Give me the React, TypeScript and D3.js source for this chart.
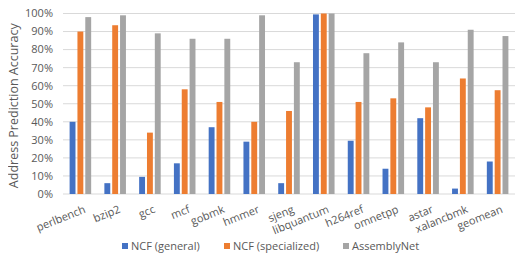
import React, { useEffect, useRef } from 'react';
import * as d3 from 'd3';

const categories = ['perlbench', 'bzip2', 'gcc', 'mcf', 'gobmk', 'hmmer', 'sjeng', 'libquantum', 'h264ref', 'omnetpp', 'astar', 'xalancbmk', 'geomean'];
const ncfGeneral = [40, 6, 9.5, 17, 37, 29, 6, 99.5, 29.5, 14, 42, 3, 18];
const ncfSpecialized = [90, 93.5, 34, 58, 51, 40, 46, 100, 51, 53, 48, 64, 57.5];
const assemblyNet = [98, 99, 89, 86, 86, 99, 73, 100, 78, 84, 73, 91, 87.5];
const seriesNames = ['NCF (general)', 'NCF (specialized)', 'AssemblyNet'];
const seriesColors = ['#4472C4', '#ED7D31', '#A5A5A5'];
const yTicks = [0, 10, 20, 30, 40, 50, 60, 70, 80, 90, 100];

const FONT = '"Open Sans", sans-serif';

export default function App() {
  const ref = useRef<SVGSVGElement>(null);

  useEffect(() => {
    const svg = d3.select(ref.current);
    svg.selectAll('*').remove();

    const margin = { top: 13.5, right: 12, bottom: 67, left: 63 };
    const width = 527 - margin.left - margin.right;
    const height = 261 - margin.top - margin.bottom;

    const g = svg.append('g').attr('transform', `translate(${margin.left},${margin.top})`);

    const x = d3.scaleBand().domain(categories).range([0, width]).paddingInner(0.38).paddingOuter(0.19);
    const inner = d3.scaleBand().domain(['0', '1', '2']).range([0, x.bandwidth()]).paddingInner(0.25);
    const y = d3.scaleLinear().domain([0, 100]).range([height, 0]);

    // grid
    g.selectAll('line.grid')
      .data(yTicks)
      .enter()
      .append('line')
      .attr('x1', 0)
      .attr('x2', width)
      .attr('y1', (d) => y(d))
      .attr('y2', (d) => y(d))
      .attr('stroke', '#d9d9d9')
      .attr('stroke-width', 1);

    // tick labels
    g.selectAll('text.ytick')
      .data(yTicks)
      .enter()
      .append('text')
      .attr('x', -10)
      .attr('y', (d) => y(d))
      .attr('dy', '0.35em')
      .attr('text-anchor', 'end')
      .attr('font-family', FONT)
      .attr('font-size', 11)
      .attr('fill', '#595959')
      .text((d) => d + '%');

    const allSeries = [ncfGeneral, ncfSpecialized, assemblyNet];
    allSeries.forEach((vals, si) => {
      g.selectAll('rect.s' + si)
        .data(vals)
        .enter()
        .append('rect')
        .attr('x', (d, i) => (x(categories[i]) as number) + (inner(String(si)) as number))
        .attr('y', (d) => y(d))
        .attr('width', inner.bandwidth())
        .attr('height', (d) => height - y(d))
        .attr('fill', seriesColors[si]);
    });

    // x labels
    g.selectAll('text.xlab')
      .data(categories)
      .enter()
      .append('text')
      .attr('transform', (d) => `translate(${(x(d) as number) + x.bandwidth() / 2 + 3},${height + 11}) rotate(-22)`)
      .attr('text-anchor', 'end')
      .attr('dy', '0.7em')
      .attr('font-family', FONT)
      .attr('font-size', 11)
      .attr('fill', '#595959')
      .text((d) => d);

    // y title
    svg.append('text')
      .attr('transform', `translate(18,${margin.top + height / 2 + 2}) rotate(-90)`)
      .attr('text-anchor', 'middle')
      .attr('font-family', FONT)
      .attr('font-size', 12.5)
      .attr('fill', '#595959')
      .text('Address Prediction Accuracy');

    // legend
    const legendX = [122, 224, 343];
    seriesNames.forEach((name, i) => {
      svg.append('rect')
        .attr('x', legendX[i])
        .attr('y', 243)
        .attr('width', 6)
        .attr('height', 6)
        .attr('fill', seriesColors[i]);
      svg.append('text')
        .attr('x', legendX[i] + 9)
        .attr('y', 246)
        .attr('dy', '0.35em')
        .attr('font-family', FONT)
        .attr('font-size', 11)
        .attr('fill', '#595959')
        .text(name);
    });
  }, []);

  return (
    <div style={{ margin: -8 }}>
      <svg ref={ref} width={527} height={261} style={{ display: 'block', background: '#fff' }} />
    </div>
  );
}
